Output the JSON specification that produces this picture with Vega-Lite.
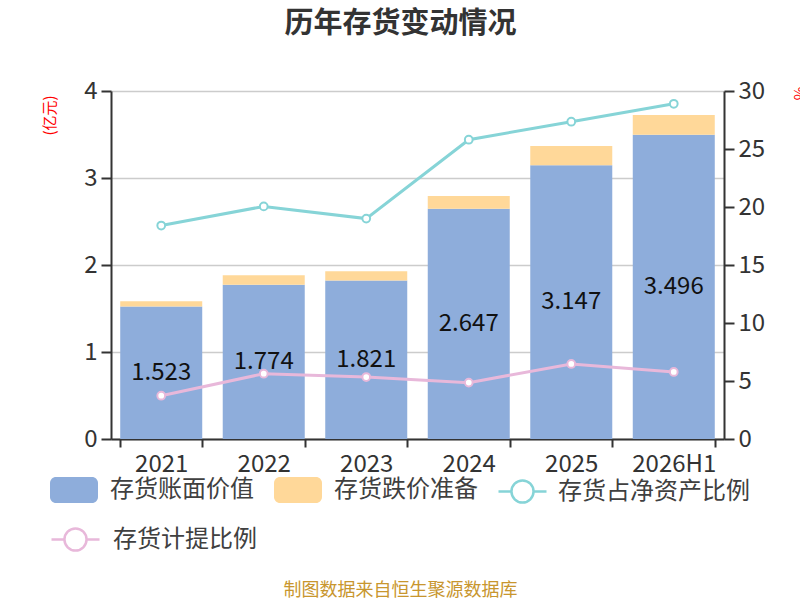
{
  "$schema": "https://vega.github.io/schema/vega-lite/v6.json",
  "autosize": {"type": "none"},
  "padding": {"left": 111, "top": 91, "right": 76, "bottom": 161},
  "width": 613,
  "height": 348,
  "title": {
    "text": "历年存货变动情况",
    "anchor": "middle",
    "dx": -17,
    "fontSize": 29,
    "fontWeight": "bold",
    "color": "#333333",
    "offset": 40
  },
  "datasets": {
    "bars": [
      {"year": "2021", "type": "存货账面价值", "v": 1.523},
      {"year": "2021", "type": "存货跌价准备", "v": 0.060},
      {"year": "2022", "type": "存货账面价值", "v": 1.774},
      {"year": "2022", "type": "存货跌价准备", "v": 0.108},
      {"year": "2023", "type": "存货账面价值", "v": 1.821},
      {"year": "2023", "type": "存货跌价准备", "v": 0.107},
      {"year": "2024", "type": "存货账面价值", "v": 2.647},
      {"year": "2024", "type": "存货跌价准备", "v": 0.146},
      {"year": "2025", "type": "存货账面价值", "v": 3.147},
      {"year": "2025", "type": "存货跌价准备", "v": 0.221},
      {"year": "2026H1", "type": "存货账面价值", "v": 3.496},
      {"year": "2026H1", "type": "存货跌价准备", "v": 0.228}
    ],
    "ratios": [
      {"year": "2021", "net": 18.4, "prov": 3.73},
      {"year": "2022", "net": 20.05, "prov": 5.63},
      {"year": "2023", "net": 19.0, "prov": 5.34},
      {"year": "2024", "net": 25.8, "prov": 4.86},
      {"year": "2025", "net": 27.35, "prov": 6.47},
      {"year": "2026H1", "net": 28.9, "prov": 5.78}
    ]
  },
  "encoding": {
    "x": {
      "field": "year",
      "type": "nominal",
      "sort": null,
      "scale": {"paddingInner": 0.2, "paddingOuter": 0.09},
      "axis": {
        "title": "制图数据来自恒生聚源数据库",
        "titleColor": "#C8962E",
        "titleFontSize": 18,
        "titleFontWeight": "normal",
        "titleX": 289,
        "titleY": 151,
        "titleAlign": "center",
        "titleBaseline": "middle",
        "labelAngle": 0,
        "labelFontSize": 24,
        "labelColor": "#333333",
        "labelPadding": 5,
        "tickBand": "extent",
        "tickSize": 8,
        "tickColor": "#333333",
        "tickWidth": 2,
        "domainColor": "#333333",
        "domainWidth": 2,
        "grid": false
      }
    }
  },
  "layer": [
    {
      "layer": [
        {
          "data": {"name": "bars"},
          "mark": {"type": "bar"},
          "encoding": {
            "y": {
              "field": "v",
              "type": "quantitative",
              "stack": "zero",
              "scale": {"domain": [0, 4], "nice": false},
              "axis": {
                "orient": "left",
                "values": [0, 1, 2, 3, 4],
                "format": "d",
                "title": "(亿元)",
                "titleColor": "#FF0000",
                "titleFontSize": 15,
                "titleFontWeight": "normal",
                "titleX": -62,
                "titleY": 24,
                "titleAlign": "center",
                "titleBaseline": "middle",
                "labelFontSize": 24,
                "labelColor": "#333333",
                "labelPadding": 4,
                "tickSize": 10,
                "tickColor": "#333333",
                "tickWidth": 2,
                "domainColor": "#333333",
                "domainWidth": 2,
                "grid": true,
                "gridColor": "#CCCCCC",
                "gridWidth": 1.5
              }
            },
            "fill": {
              "field": "type",
              "type": "nominal",
              "scale": {
                "domain": ["存货账面价值", "存货跌价准备"],
                "range": ["#8EADDB", "#FFD899"]
              },
              "legend": {
                "orient": "none",
                "legendX": -61,
                "legendY": 375,
                "direction": "horizontal",
                "title": null,
                "symbolType": "M-0.75,-0.54H0.75A0.25,0.25 0 0 1 1,-0.29V0.29A0.25,0.25 0 0 1 0.75,0.54H-0.75A0.25,0.25 0 0 1 -1,0.29V-0.29A0.25,0.25 0 0 1 -0.75,-0.54Z",
                "symbolSize": 2304,
                "symbolStrokeWidth": 0,
                "labelFontSize": 24,
                "labelColor": "#404040",
                "labelOffset": 12,
                "labelLimit": 300,
                "columnPadding": 20
              }
            },
            "order": {"field": "type", "sort": "ascending"}
          }
        },
        {
          "data": {"name": "bars"},
          "transform": [{"filter": "datum.type == '存货账面价值'"}],
          "mark": {"type": "text", "fontSize": 24, "color": "#111111", "baseline": "middle"},
          "encoding": {
            "y": {"datum": 0},
            "yOffset": {
              "field": "v",
              "type": "quantitative",
              "scale": {"domain": [0, 4], "range": [0, -174]}
            },
            "text": {"field": "v", "type": "quantitative", "format": ".3f"}
          }
        }
      ]
    },
    {
      "data": {"name": "ratios"},
      "layer": [
        {
          "mark": {"type": "line", "strokeWidth": 3},
          "encoding": {
            "y": {
              "field": "net",
              "type": "quantitative",
              "scale": {"domain": [0, 30], "nice": false},
              "axis": {
                "orient": "right",
                "values": [0, 5, 10, 15, 20, 25, 30],
                "title": "%",
                "titleColor": "#FF0000",
                "titleFontSize": 15,
                "titleFontWeight": "normal",
                "titleX": 74,
                "titleY": 2,
                "titleAlign": "center",
                "titleBaseline": "middle",
                "labelFontSize": 24,
                "labelColor": "#333333",
                "labelPadding": 4,
                "tickSize": 10,
                "tickColor": "#333333",
                "tickWidth": 2,
                "domainColor": "#333333",
                "domainWidth": 2,
                "grid": false
              }
            },
            "color": {
              "datum": "存货占净资产比例",
              "scale": {"range": ["#86D4D7"]},
              "legend": {
                "orient": "none",
                "legendX": 386,
                "legendY": 375,
                "title": null,
                "symbolType": "M-1,0H-0.46M0.46,0H1M-0.46,0A0.46,0.46 0 1 1 0.46,0A0.46,0.46 0 1 1 -0.46,0Z",
                "symbolSize": 2304,
                "symbolStrokeWidth": 2.5,
                "symbolFillColor": "#FFFFFF",
                "labelFontSize": 24,
                "labelColor": "#404040",
                "labelOffset": 10,
                "labelLimit": 300
              }
            }
          }
        },
        {
          "mark": {"type": "point", "filled": false, "fill": "#FFFFFF", "strokeWidth": 2, "size": 60, "opacity": 1},
          "encoding": {
            "y": {"field": "net", "type": "quantitative"},
            "color": {"datum": "存货占净资产比例"}
          }
        },
        {
          "mark": {"type": "line", "strokeWidth": 3},
          "encoding": {
            "y": {"field": "prov", "type": "quantitative"},
            "stroke": {
              "datum": "存货计提比例",
              "scale": {"range": ["#E8B8DA"]},
              "legend": {
                "orient": "none",
                "legendX": -61,
                "legendY": 423,
                "title": null,
                "symbolType": "M-1,0H-0.46M0.46,0H1M-0.46,0A0.46,0.46 0 1 1 0.46,0A0.46,0.46 0 1 1 -0.46,0Z",
                "symbolSize": 2304,
                "symbolStrokeWidth": 2.5,
                "symbolFillColor": "#FFFFFF",
                "labelFontSize": 24,
                "labelColor": "#404040",
                "labelOffset": 12,
                "labelLimit": 300
              }
            }
          }
        },
        {
          "mark": {"type": "point", "filled": false, "fill": "#FFFFFF", "strokeWidth": 2, "size": 60, "opacity": 1},
          "encoding": {
            "y": {"field": "prov", "type": "quantitative"},
            "stroke": {"datum": "存货计提比例"}
          }
        }
      ]
    }
  ],
  "resolve": {"scale": {"y": "independent"}},
  "config": {
    "font": "Noto Sans CJK SC",
    "view": {"stroke": null},
    "legend": {"labelFont": "Noto Sans CJK SC"}
  }
}
